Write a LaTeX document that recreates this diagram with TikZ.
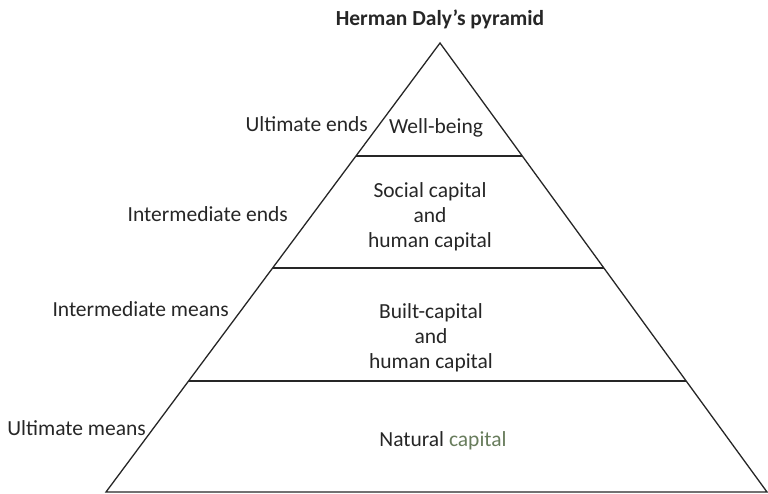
\documentclass[tikz,border=0pt]{standalone}
\usepackage{fontspec}
\setmainfont{Carlito}
\definecolor{capgreen}{RGB}{104,124,92}
\begin{document}
\begin{tikzpicture}[x=1pt,y=-1pt,
  txt/.style={inner sep=0pt, font=\fontsize{21.5}{25}\selectfont, text=black!85},
  layer/.style={draw=black!85, line width=1.3pt},
  edge/.style={draw=black!85, line width=1.3pt, line join=miter}]
\useasboundingbox (0,0) rectangle (768,494);
\coordinate (apex) at (440,43);
\coordinate (bl) at (106,492);
\coordinate (br) at (767,492);
\draw[edge] (bl) -- (apex) -- (br) -- cycle;
\path (apex) -- (bl) coordinate[pos=0.2517] (l1) coordinate[pos=0.5011] (l2) coordinate[pos=0.7528] (l3);
\path (apex) -- (br) coordinate[pos=0.2517] (r1) coordinate[pos=0.5011] (r2) coordinate[pos=0.7528] (r3);
\draw[layer] (l1) -- (r1);
\draw[layer] (l2) -- (r2);
\draw[layer] (l3) -- (r3);
\node[txt, font=\fontsize{21.5}{25}\selectfont\bfseries] (title) at (440,19) {Herman Daly’s pyramid};
\node[txt] (wb) at (436,128) {Well-being};
\node[txt, align=center] (social) at (430,217) {Social capital\\and\\human capital};
\node[txt, align=center] (built) at (431,338) {Built-capital\\and\\human capital};
\node[txt] (nat) at (443,441) {Natural \textcolor{capgreen}{capital}};
\node[txt, anchor=east] (ue) at (368,124) {Ultimate ends};
\node[txt, anchor=east] (ie) at (288,214) {Intermediate ends};
\node[txt, anchor=east] (im) at (229,309) {Intermediate means};
\node[txt, anchor=east] (um) at (146,428) {Ultimate means};
\end{tikzpicture}
\end{document}
